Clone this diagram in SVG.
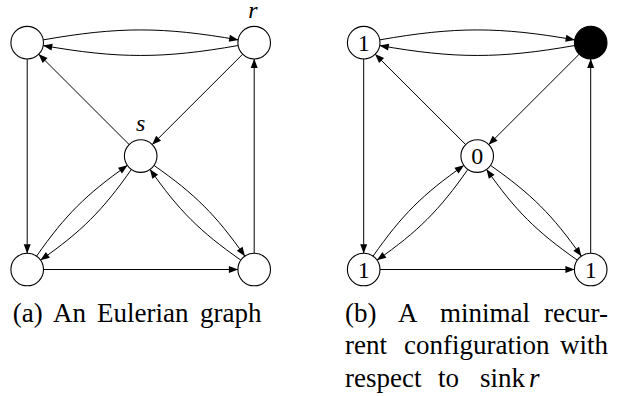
<svg xmlns="http://www.w3.org/2000/svg" width="619" height="396" viewBox="0 0 619 396">
<defs>
<marker id="arr" viewBox="-10 -4 10.5 8" refX="0" refY="0" markerWidth="10.5" markerHeight="8" markerUnits="userSpaceOnUse" orient="auto" overflow="visible">
<path d="M0.3,0 L-9,-3.5 L-9,3.5 Z" fill="#000"/>
</marker>
<g id="edgeset" fill="none" stroke="#000" stroke-width="1" marker-end="url(#arr)">
<path d="M43.25,39.87 C118.39,26.62 163.01,26.62 238.15,39.87"/>
<path d="M238.15,45.53 C163.01,58.78 118.39,58.78 43.25,45.53"/>
<path d="M27.2,59 L27.2,253.2"/>
<path d="M43.5,269.5 L237.9,269.5"/>
<path d="M254.2,253.2 L254.2,59"/>
<path d="M129.17,144.57 L38.73,54.23"/>
<path d="M242.67,54.23 L152.23,144.57"/>
<path d="M36.55,256.15 C65.35,215.03 86.23,194.25 127.35,165.45"/>
<path d="M131.35,169.45 C102.55,210.57 81.67,231.35 40.55,260.15"/>
<path d="M154.05,165.45 C195.17,194.25 216.05,215.03 244.85,256.15"/>
<path d="M240.85,260.15 C199.73,231.35 178.85,210.57 150.05,169.45"/>
</g>
</defs>
<rect width="619" height="396" fill="#fff"/>

<g id="graph-a">
<g id="edges-a"><use href="#edgeset"/></g>
<g fill="#fff" stroke="#000" stroke-width="1.1">
<g id="a-tl"><circle cx="27.2" cy="42.7" r="16.3"/></g>
<g id="a-r"><circle cx="254.2" cy="42.7" r="16.3"/></g>
<g id="a-s"><circle cx="140.7" cy="156.1" r="16.3"/></g>
<g id="a-bl"><circle cx="27.2" cy="269.5" r="16.3"/></g>
<g id="a-br"><circle cx="254.2" cy="269.5" r="16.3"/></g>
</g>
<text x="253" y="18" font-size="24" font-family="'Liberation Serif'" font-style="italic" text-anchor="middle">r</text>
<text x="140.7" y="131" font-size="24" font-family="'Liberation Serif'" font-style="italic" text-anchor="middle">s</text>
</g>

<g id="graph-b" transform="translate(336.5,0)">
<g id="edges-b"><use href="#edgeset"/></g>
<g fill="#fff" stroke="#000" stroke-width="1.1">
<g id="b-tl"><circle cx="27.2" cy="42.7" r="16.3"/></g>
<g id="b-r"><circle cx="254.2" cy="42.7" r="16.3" fill="#000"/></g>
<g id="b-s"><circle cx="140.7" cy="156.1" r="16.3"/></g>
<g id="b-bl"><circle cx="27.2" cy="269.5" r="16.3"/></g>
<g id="b-br"><circle cx="254.2" cy="269.5" r="16.3"/></g>
</g>
<text x="27.2" y="50.8" font-size="24" font-family="'Liberation Serif'" text-anchor="middle">1</text>
<text x="140.7" y="164.2" font-size="24" font-family="'Liberation Serif'" text-anchor="middle">0</text>
<text x="27.2" y="277.6" font-size="24" font-family="'Liberation Serif'" text-anchor="middle">1</text>
<text x="254.2" y="277.6" font-size="24" font-family="'Liberation Serif'" text-anchor="middle">1</text>
</g>

<g id="captions" transform="scale(1.125)">
<text x="11.29" y="285.78" font-size="24" font-family="'Liberation Serif'">(a)</text>
<text x="47.11" y="285.78" font-size="24" font-family="'Liberation Serif'">An</text>
<text x="86.22" y="285.78" font-size="24" font-family="'Liberation Serif'">Eulerian</text>
<text x="177.78" y="285.78" font-size="24" font-family="'Liberation Serif'">graph</text>
<text x="306.67" y="285.78" font-size="24" font-family="'Liberation Serif'">(b)</text>
<text x="353.78" y="285.78" font-size="24" font-family="'Liberation Serif'">A</text>
<text x="391.11" y="285.78" font-size="24" font-family="'Liberation Serif'">minimal</text>
<text x="540.44" y="285.78" font-size="24" font-family="'Liberation Serif'" text-anchor="end">recur-</text>
<text x="306.67" y="315.11" font-size="24" font-family="'Liberation Serif'">rent</text>
<text x="359.11" y="315.11" font-size="24" font-family="'Liberation Serif'">configuration</text>
<text x="540.44" y="315.11" font-size="24" font-family="'Liberation Serif'" text-anchor="end">with</text>
<text x="306.67" y="344.44" font-size="24" font-family="'Liberation Serif'">respect</text>
<text x="389.33" y="344.44" font-size="24" font-family="'Liberation Serif'">to</text>
<text x="426.67" y="344.44" font-size="24" font-family="'Liberation Serif'">sink</text>
<text x="470.22" y="344.44" font-size="24" font-family="'Liberation Serif'" font-style="italic">r</text>
</g>
</svg>
